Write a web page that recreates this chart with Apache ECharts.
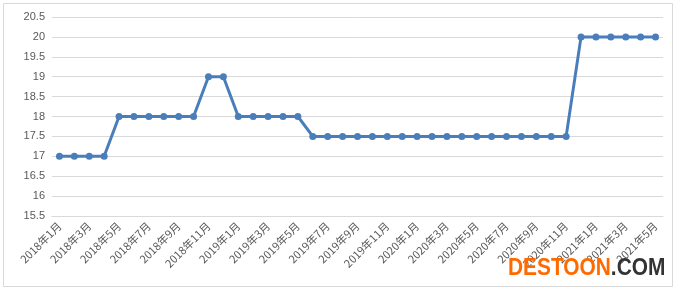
<!DOCTYPE html>
<html>
<head>
<meta charset="utf-8">
<script src="https://cdn.jsdelivr.net/npm/echarts@6/dist/echarts.min.js"></script>
<style>
html, body { margin: 0; padding: 0; background: #fff; }
#chart { width: 680px; height: 290px; }
</style>
</head>
<body>
<div id="chart"></div>
<script>
// 月份
var months = [];
var years = [2018, 2019, 2020, 2021];
for (var y = 0; y < years.length; y++) {
	for (var m = 1; m <= 12; m++) {
		if (years[y] == 2021 && m > 5) break;
		months.push(years[y] + '年' + m + '月');
	}
}

// 价格
var prices = [
	17, 17, 17, 17, 18, 18, 18, 18, 18, 18, 19, 19,
	18, 18, 18, 18, 18, 17.5, 17.5, 17.5, 17.5, 17.5, 17.5, 17.5,
	17.5, 17.5, 17.5, 17.5, 17.5, 17.5, 17.5, 17.5, 17.5, 17.5, 17.5, 20,
	20, 20, 20, 20, 20
];

var dom = document.getElementById('chart');
var myChart = echarts.init(dom);
var option = {
	animation: false,
	graphic: [
		{
			type: 'rect',
			shape: { x: 3.5, y: 3.5, width: 669, height: 283 },
			style: { fill: 'none', stroke: '#d9d9d9', lineWidth: 1 }
		},
		{
			type: 'text',
			x: 508,
			y: 256,
			scaleX: 0.87,
			z: 100,
			style: {
				text: '{a|DESTOON}{b|.COM}',
				rich: {
					a: { fill: '#ff6a00', font: 'bold 24px "Liberation Sans"' },
					b: { fill: '#333333', font: 'bold 24px "Liberation Sans"' }
				}
			}
		}
	],
	grid: { left: 52, right: 17, top: 17, bottom: 74 },
	xAxis: {
		type: 'category',
		data: months,
		boundaryGap: true,
		axisLine: { lineStyle: { color: '#d9d9d9' } },
		axisTick: { interval: 1, length: 5, lineStyle: { color: '#d9d9d9' } },
		axisLabel: {
			interval: 1,
			rotate: 45,
			color: '#595959',
			fontSize: 11,
			fontFamily: 'Noto Sans CJK SC',
			margin: 8
		}
	},
	yAxis: {
		type: 'value',
		min: 15.5,
		max: 20.5,
		interval: 0.5,
		axisLine: { show: false },
		axisTick: { show: false },
		splitLine: { lineStyle: { color: '#d9d9d9' } },
		axisLabel: { color: '#595959', fontSize: 11, fontFamily: 'Liberation Sans', margin: 7 }
	},
	series: [
		{
			type: 'line',
			data: prices,
			symbol: 'circle',
			symbolSize: 7,
			lineStyle: { color: '#4a7ebb', width: 3 },
			itemStyle: { color: '#4a7ebb' }
		}
	]
};
myChart.setOption(option, true);
</script>
</body>
</html>
